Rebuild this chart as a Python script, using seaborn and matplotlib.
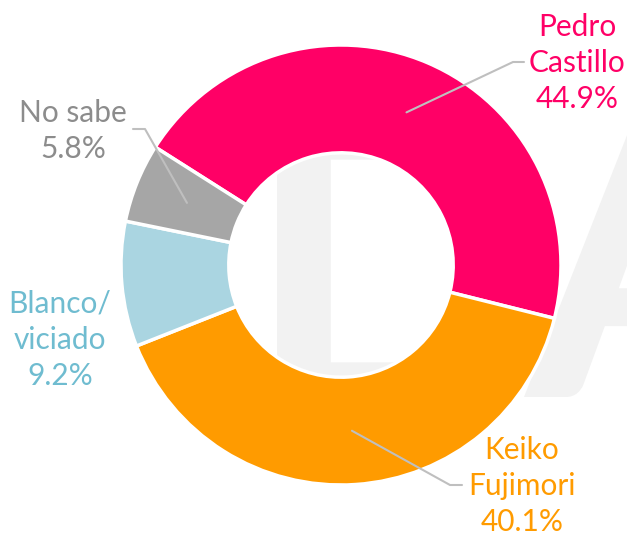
import matplotlib.pyplot as plt
import seaborn as sns
import numpy as np
from matplotlib.textpath import TextPath
from matplotlib.font_manager import FontProperties
from matplotlib.patches import PathPatch
from matplotlib.transforms import Affine2D

# data
candidates = ["Pedro\nCastillo", "Keiko\nFujimori", "Blanco/\nviciado", "No sabe"]
shares = [44.9, 40.1, 9.2, 5.8]
slice_colors = ["#FF0066", "#FF9B00", "#AAD5E1", "#A6A6A6"]
label_colors = ["#FF0066", "#FF9B00", "#6FBCD0", "#8C8C8C"]

sns.set_theme(style="white")
plt.rcParams['font.family'] = ['Lato', 'DejaVu Sans']

W, H = 627, 536
CX, CY, R = 341, 265, 220


def px(x, y):
    # pixel (from top-left) -> data units
    return (x - CX) / R, (CY - y) / R


fig = plt.figure(figsize=(W / 100, H / 100), dpi=100)
ax = fig.add_axes([0, 0, 1, 1])


def watermark(ch, left, bottom, cap):
    tp = TextPath((0, 0), ch, size=10, prop=FontProperties(family='Lato', weight='bold'))
    ext = tp.get_extents()
    s = (cap / R) / ext.height
    x0, y0 = px(left, bottom)
    tr = Affine2D().translate(-ext.x0, -ext.y0).scale(s).translate(x0, y0)
    ax.add_patch(PathPatch(tr.transform_path(tp), fc="#F2F2F2", ec='none', zorder=0))


# faint logo letters behind the donut
watermark("D", 277, 405, 288)
watermark("A", 524, 397, 288)

start = 147.6
wedges, _ = ax.pie(shares, colors=slice_colors, startangle=start, counterclock=False,
                   radius=1, wedgeprops=dict(width=0.49, edgecolor='white', linewidth=2.5),
                   frame=True)
for w in wedges:
    w.set_zorder(2)
ax.set_xlim(-CX / R, (W - CX) / R)
ax.set_ylim(-(H - CY) / R, CY / R)
ax.axis('off')

# label layout (pixel positions of text centres, leader elbows and ends)
text_pos = [(577, 63), (522, 486), (60, 340), (73, 131)]
elbows = [[(513, 62), (524, 62)], [(450, 485), (462, 485)], None, [(145, 129), (133, 129)]]

for i, (name, val) in enumerate(zip(candidates, shares)):
    tx, ty = px(*text_pos[i])
    ax.text(tx, ty, f"{name}\n{val:.1f}%", color=label_colors[i], fontsize=21.5,
            ha='center', va='center', linespacing=1.36, zorder=4)
    if elbows[i] is None:
        continue
    w = wedges[i]
    mid = np.deg2rad((w.theta1 + w.theta2) / 2)
    ax_, ay_ = 0.755 * np.cos(mid), 0.755 * np.sin(mid)
    pts = [(ax_, ay_)] + [px(*p) for p in elbows[i]]
    xs, ys = zip(*pts)
    ax.plot(xs, ys, color="#BFBFBF", lw=1.5, zorder=3)

fig.savefig("out.png", dpi=100)
